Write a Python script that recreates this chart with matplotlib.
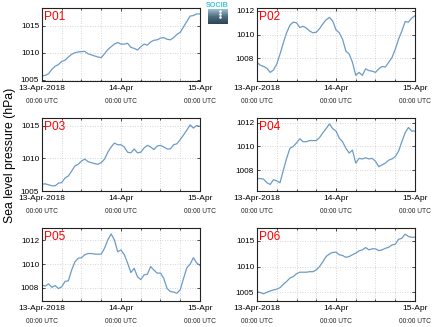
import numpy as np
import matplotlib
matplotlib.use("Agg")
import matplotlib.pyplot as plt
from matplotlib.transforms import blended_transform_factory

plt.rcParams['font.family'] = ['Liberation Sans', 'DejaVu Sans']

hours = np.arange(49)  # hourly from 13-Apr-2018 00:00 UTC to 15-Apr 00:00 UTC

stations = ["P01", "P02", "P03", "P04", "P05", "P06"]

p01 = [1005.7, 1005.8, 1006.1, 1006.9, 1007.5, 1007.8, 1008.4, 1008.6, 1009.2, 1009.7,
       1010.0, 1010.15, 1010.2, 1010.25, 1009.8, 1009.6, 1009.4, 1009.2, 1009.1, 1009.8,
       1010.6, 1011.1, 1011.6, 1011.9, 1011.6, 1011.6, 1011.75, 1011.0, 1010.8, 1010.5,
       1011.1, 1011.6, 1011.4, 1012.0, 1012.3, 1012.4, 1012.7, 1012.8, 1012.5, 1012.4,
       1012.8, 1013.4, 1013.8, 1014.8, 1015.8, 1016.8, 1016.9, 1017.2, 1017.2]
p02 = [1007.65, 1007.4, 1007.3, 1007.15, 1006.8, 1007.0, 1007.5, 1008.35, 1009.3, 1010.15,
       1010.8, 1011.05, 1011.0, 1010.6, 1010.7, 1010.55, 1010.3, 1010.15, 1010.2, 1010.5,
       1010.9, 1011.25, 1011.45, 1011.15, 1010.4, 1010.15, 1009.6, 1008.6, 1008.35, 1007.65,
       1006.55, 1006.8, 1006.55, 1007.1, 1006.95, 1006.9, 1006.8, 1007.1, 1007.3, 1007.25,
       1007.65, 1008.05, 1008.75, 1009.6, 1010.3, 1011.1, 1011.05, 1011.4, 1011.6]
p03 = [1006.05, 1006.1, 1005.95, 1005.8, 1005.8, 1006.2, 1006.3, 1007.0, 1007.3, 1008.05,
       1008.85, 1009.1, 1009.6, 1009.9, 1009.5, 1009.35, 1009.2, 1009.1, 1009.35, 1009.9,
       1010.95, 1011.75, 1012.35, 1012.1, 1012.1, 1011.75, 1010.95, 1010.85, 1011.45, 1010.85,
       1010.95, 1011.6, 1012.0, 1011.75, 1011.35, 1011.9, 1012.0, 1011.75, 1011.45, 1011.45,
       1012.1, 1012.25, 1012.9, 1013.6, 1014.35, 1015.15, 1014.65, 1015.05, 1014.9]
p04 = [1007.3, 1007.3, 1007.25, 1006.95, 1006.8, 1007.2, 1007.1, 1006.95, 1008.0, 1009.0,
       1009.85, 1010.0, 1010.3, 1010.65, 1010.4, 1010.4, 1010.5, 1010.5, 1010.5, 1010.75,
       1011.15, 1011.5, 1011.9, 1011.5, 1011.3, 1010.7, 1010.4, 1009.85, 1009.45, 1009.7,
       1008.6, 1009.0, 1008.95, 1009.05, 1008.95, 1009.0, 1008.75, 1008.3, 1008.45, 1008.6,
       1008.85, 1008.95, 1009.15, 1009.6, 1010.4, 1011.15, 1011.6, 1011.3, 1011.3]
p05 = [1008.25, 1008.15, 1008.35, 1008.05, 1008.2, 1007.95, 1008.1, 1008.55, 1008.6, 1009.5,
       1010.2, 1010.5, 1010.55, 1010.8, 1010.9, 1010.9, 1010.85, 1010.85, 1010.85, 1011.35,
       1012.05, 1012.55, 1012.05, 1011.05, 1011.2, 1010.8, 1010.1, 1009.3, 1009.65, 1008.95,
       1008.7, 1009.1, 1009.15, 1009.8, 1009.5, 1009.25, 1009.25, 1008.8, 1007.95, 1007.7,
       1007.65, 1007.55, 1007.85, 1008.8, 1009.7, 1010.0, 1010.55, 1010.1, 1009.9]
p06 = [1005.1, 1004.95, 1004.7, 1005.0, 1005.25, 1005.45, 1005.6, 1005.9, 1006.55, 1007.1,
       1007.75, 1008.05, 1008.6, 1008.9, 1008.9, 1008.9, 1009.0, 1009.0, 1009.35, 1010.0,
       1010.95, 1011.95, 1012.45, 1012.75, 1012.8, 1012.3, 1012.15, 1011.8, 1011.95, 1012.3,
       1012.6, 1013.05, 1013.25, 1013.7, 1013.25, 1013.45, 1013.45, 1013.1, 1013.25, 1013.55,
       1013.75, 1014.2, 1014.35, 1015.3, 1015.5, 1016.3, 1015.85, 1015.7, 1015.7]
series = [p01, p02, p03, p04, p05, p06]

ylims = [(1004.75, 1018.3), (1006.07, 1012.25), (1005.4, 1016.2),
         (1006.25, 1012.4), (1006.9, 1013.05), (1003.3, 1017.5)]
yticks = [[1005, 1010, 1015], [1008, 1010, 1012], [1005, 1010, 1015],
          [1008, 1010, 1012], [1008, 1010, 1012], [1005, 1010, 1015]]

date_ticks = [0, 24, 48]
date_labels = ["13-Apr-2018", "14-Apr", "15-Apr"]
time_label = "00:00 UTC"
ylabel = "Sea level pressure (hPa)"

W, H = 435, 327
fig = plt.figure(figsize=(W / 100, H / 100), dpi=100)

lefts = [42, 257]
tops = [8, 118, 228]
aw, ah = 158, 73
line_color = "#6b9bc7"

for i, (name, vals) in enumerate(zip(stations, series)):
    r, c = divmod(i, 2)
    x0 = lefts[c]
    y0 = tops[r]
    ax = fig.add_axes([x0 / W, 1 - (y0 + ah) / H, aw / W, ah / H])
    ax.plot(hours, vals, color=line_color, lw=0.9)
    ax.set_xlim(0, 48)
    ax.set_ylim(*ylims[i])
    ax.set_yticks(yticks[i])
    ax.set_yticklabels([str(v) for v in yticks[i]], fontsize=5.9)
    ax.set_xticks(date_ticks)
    ax.set_xticklabels(date_labels, fontsize=6.0)
    ax.set_xticks(np.arange(0, 49, 6), minor=True)
    ax.grid(True, which='both', axis='x', color='#c8c8c8', ls=(0, (1, 2)), lw=0.6)
    ax.grid(True, which='major', axis='y', color='#c8c8c8', ls=(0, (1, 2)), lw=0.6)
    ax.tick_params(which='both', direction='in', length=2, width=0.5,
                   top=True, right=True, pad=2)
    ax.tick_params(axis='x', which='major', pad=3)
    ax.tick_params(axis='x', which='minor', length=1.2)
    for s in ax.spines.values():
        s.set_linewidth(0.8)
        s.set_color('#222222')
    tr = blended_transform_factory(ax.transData, ax.transAxes)
    for t in date_ticks:
        ax.text(t, -0.235, time_label, transform=tr, ha='center', va='top',
                fontsize=4.8, color='#222222')
    ax.text(0.01, 0.96, name, transform=ax.transAxes, color='red',
            fontsize=8.6, ha='left', va='top')

fig.text(10 / W, 1 - 155 / H, ylabel, rotation=90, ha='center', va='center',
         fontsize=8.8)

# logo
fig.text(217.5 / W, 1 - 5.5 / H, "SOCIB", color="#3cc6d8", fontsize=5.2,
         ha='center', va='center', fontweight='bold')
lax = fig.add_axes([208 / W, 1 - 24 / H, 20 / W, 15 / H])
grad = np.linspace(0, 1, 50).reshape(-1, 1)
cmap = matplotlib.colors.LinearSegmentedColormap.from_list(
    "logo", ["#9fc0cf", "#4b6d80", "#2e4455"])
lax.imshow(grad, aspect='auto', cmap=cmap, extent=[0, 1, 0, 1], origin='upper')
lax.plot([0.6, 0.6, 0.6], [0.85, 0.65, 0.45], ls='none', marker='s', ms=0.8,
         color='white')
lax.set_xlim(0, 1)
lax.set_ylim(0, 1)
lax.axis('off')

fig.savefig("out.png", dpi=100)
